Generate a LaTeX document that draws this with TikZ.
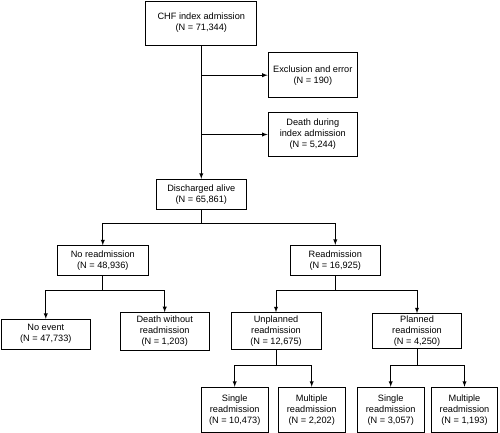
\documentclass[tikz,border=0pt]{standalone}
\usepackage{fontspec}
\setmainfont{Liberation Sans}
\usepackage{tikz}
\usetikzlibrary{arrows}

\begin{document}
\begin{tikzpicture}[x=1pt,y=-1pt,
	flowbox/.style={draw,line width=0.9pt,align=center,inner sep=1pt,
		font=\fontsize{9.2}{11}\selectfont},
	smallbox/.style={flowbox,minimum width=66.5pt,minimum height=45pt}]
		\useasboundingbox (0,0) rectangle (500,433);
		%
		\node[flowbox,minimum width=111pt,minimum height=44pt] (chf) at (201.3,23) {CHF index admission\\(N = 71,344)};
		\node[flowbox,minimum width=89.5pt,minimum height=45pt] (excl) at (312.8,75.2) {Exclusion and error\\(N = 190)};
		\node[flowbox,minimum width=89.5pt,minimum height=44.5pt] (dindex) at (312.8,134.5) {Death during\\index admission\\(N = 5,244)};
		\node[flowbox,minimum width=89.5pt,minimum height=30pt] (alive) at (201.3,194.2) {Discharged alive\\(N = 65,861)};
		\node[flowbox,minimum width=91pt,minimum height=29.5pt] (noread) at (102.8,260.5) {No readmission\\(N = 48,936)};
		\node[flowbox,minimum width=89.5pt,minimum height=30pt] (read) at (335.3,260.3) {Readmission\\(N = 16,925)};
		\node[flowbox,minimum width=89.5pt,minimum height=29.7pt] (noevent) at (45.8,334.2) {No event\\(N = 47,733)};
		\node[flowbox,minimum width=89.5pt,minimum height=37.3pt] (dnoread) at (164.7,331.3) {Death without\\readmission\\(N = 1,203)};
		\node[flowbox,minimum width=90pt,minimum height=37pt] (unpl) at (276,331.2) {Unplanned\\readmission\\(N = 12,675)};
		\node[flowbox,minimum width=89.5pt,minimum height=35pt] (plan) at (417,331.2) {Planned\\readmission\\(N = 4,250)};
		\node[smallbox] (usingle) at (234.7,409.7) {Single\\readmission\\(N = 10,473)};
		\node[smallbox] (umult) at (311.7,409.7) {Multiple\\readmission\\(N = 2,202)};
		\node[smallbox] (psingle) at (390.7,409.7) {Single\\readmission\\(N = 3,057)};
		\node[smallbox] (pmult) at (464.5,409.7) {Multiple\\readmission\\(N = 1,193)};
		%
		\coordinate (s1) at (201.3,223.3);
		\coordinate (s2) at (102.8,290);
		\coordinate (s3) at (335.3,290);
		\coordinate (s4) at (276,365);
		\coordinate (s5) at (417,365);
		%
		\path[->,line width=0.9pt,>=latex]
		(chf) edge (alive)
		(chf.south |- excl.west) edge (excl)
		(chf.south |- dindex.west) edge (dindex);
		\draw[line width=0.9pt] (alive) -- (s1) (noread) -- (s2) (read) -- (s3)
		(unpl) -- (s4) (plan) -- (s5);
		\draw[->,line width=0.9pt,>=latex] (s1) -| (noread);
		\draw[->,line width=0.9pt,>=latex] (s1) -| (read);
		\draw[->,line width=0.9pt,>=latex] (s2) -| (noevent);
		\draw[->,line width=0.9pt,>=latex] (s2) -| (dnoread);
		\draw[->,line width=0.9pt,>=latex] (s3) -| (unpl);
		\draw[->,line width=0.9pt,>=latex] (s3) -| (plan);
		\draw[->,line width=0.9pt,>=latex] (s4) -| (usingle);
		\draw[->,line width=0.9pt,>=latex] (s4) -| (umult);
		\draw[->,line width=0.9pt,>=latex] (s5) -| (psingle);
		\draw[->,line width=0.9pt,>=latex] (s5) -| (pmult);
\end{tikzpicture}
\end{document}
